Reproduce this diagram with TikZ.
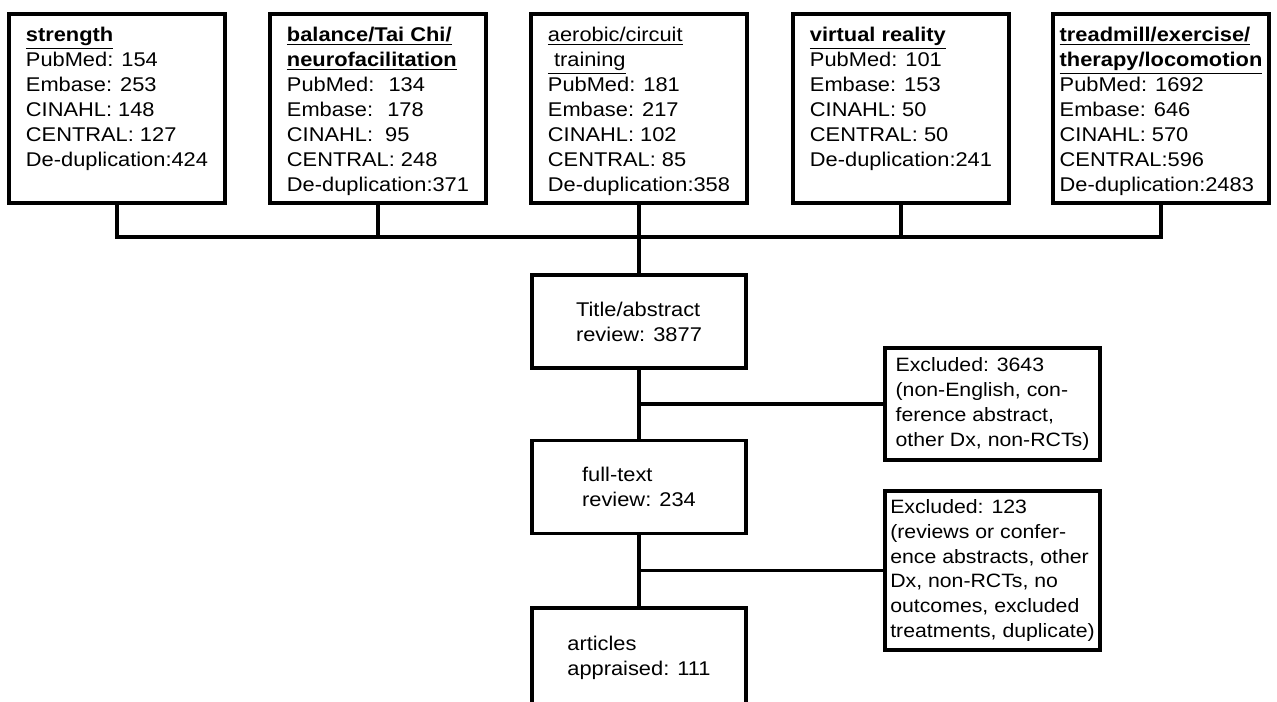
\documentclass[tikz,border=0pt]{standalone}
\usepackage{fontspec}
\setmainfont[FakeStretch=1.1]{Liberation Sans}
\usetikzlibrary{positioning}

\begin{document}
\begin{tikzpicture}[x=0.02cm, y=-0.02cm,
    every node/.style={align=left, font=\fontsize{11.3}{14.2}\selectfont},
    srcbox/.style={draw, line width=2.2pt, minimum width=4.32cm, minimum height=3.78cm},
    srctext/.style={inner sep=0pt},
    stepbox/.style={draw, line width=2.2pt, minimum width=4.28cm, minimum height=1.86cm},
    exbox/.style={draw, line width=2.2pt, minimum width=4.3cm, inner sep=0pt, font=\fontsize{11}{14.2}\selectfont},
    link/.style={line width=2.2pt},
    branch/.style={line width=1.8pt}]
        \path[use as bounding box, fill=white] (0,0) rectangle (1277,701);

        % search sources
        \node[srcbox] (strength) at (117,108.5) {};
        \node[srcbox] (balance) at (378,108.5) {};
        \node[srcbox] (aerobic) at (639,108.5) {};
        \node[srcbox] (vr) at (901,108.5) {};
        \node[srcbox] (treadmill) at (1161,108.5) {};

        \node[srctext, below=0.3cm of strength.north] (strength-txt) {\underline{\textbf{strength}}\\PubMed: 154\\Embase: 253\\CINAHL: 148\\CENTRAL: 127\\De-duplication:424};
        \node[srctext, below=0.3cm of balance.north] (balance-txt) {\underline{\textbf{balance/Tai Chi/}}\\\underline{\textbf{neurofacilitation}}\\PubMed: \ 134\\Embase: \ 178\\CINAHL: \ 95\\CENTRAL: 248\\De-duplication:371};
        \node[srctext, below=0.3cm of aerobic.north] (aerobic-txt) {\underline{aerobic/circuit}\\\underline{\ training}\\PubMed: 181\\Embase: 217\\CINAHL: 102\\CENTRAL: 85\\De-duplication:358};
        \node[srctext, below=0.3cm of vr.north] (vr-txt) {\underline{\textbf{virtual reality}}\\PubMed: 101\\Embase: 153\\CINAHL: 50\\CENTRAL: 50\\De-duplication:241};
        \node[srctext, below=0.3cm of treadmill.north] (treadmill-txt) {\underline{\textbf{treadmill/exercise/}}\\\underline{\textbf{therapy/locomotion}}\\PubMed: 1692\\Embase: 646\\CINAHL: 570\\CENTRAL:596\\De-duplication:2483};

        % screening
        \node[stepbox] (title) at (639,321.5) {Title/abstract\\review: 3877};
        \node[stepbox] (fulltext) at (639,487) {full-text\\review: 234};
        \node[stepbox, minimum height=2cm] (articles) at (639,658) {articles\\appraised: 111};

        \node[exbox, minimum height=2.24cm] (excl1) at (992.5,404) {Excluded: 3643\\(non-English, con-\\ference abstract,\\other Dx, non-RCTs)};
        \node[exbox, minimum height=3.18cm] (excl2) at (992.5,570.5) {Excluded: 123\\(reviews or confer-\\ence abstracts, other\\Dx, non-RCTs, no\\outcomes, excluded\\treatments, duplicate)};

        \coordinate (bus) at (639,237);
        \foreach \src in {strength,balance,aerobic,vr,treadmill}
            \draw[link] (\src.south) |- (bus);
        \draw[link] (bus) -- (title.north);
        \draw[link] (title) -- (fulltext);
        \draw[link] (fulltext) -- (articles);

        \draw[branch] (excl1.west) -- (excl1.west -| title.south);
        \draw[branch] (excl2.west) -- (excl2.west -| fulltext.south);
    \end{tikzpicture}
\end{document}
